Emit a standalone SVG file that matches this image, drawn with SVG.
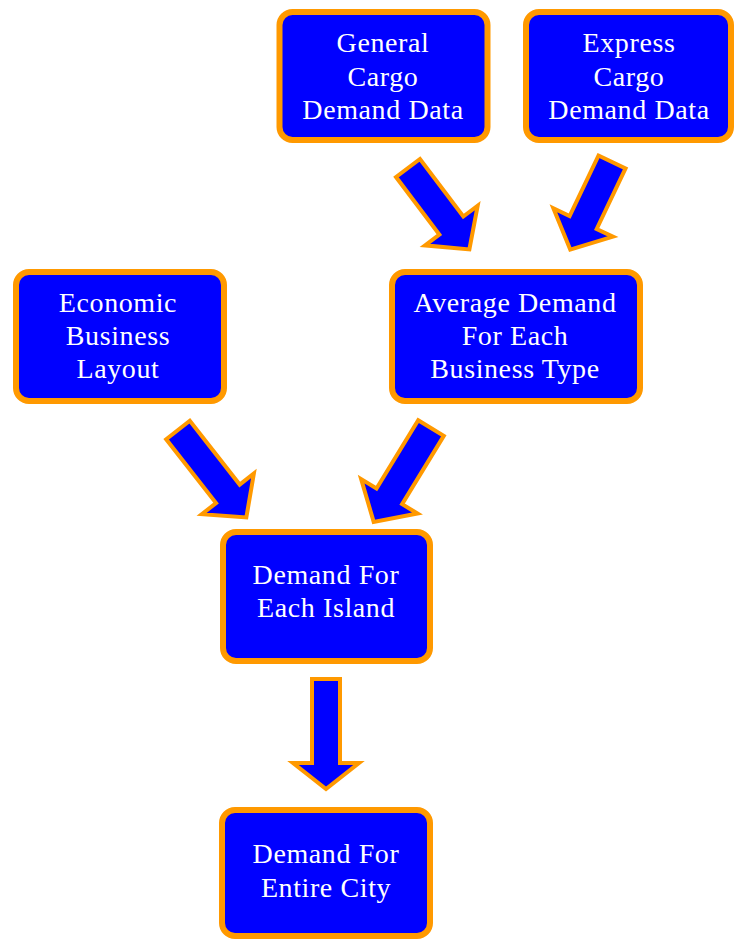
<svg xmlns="http://www.w3.org/2000/svg" width="737" height="939" viewBox="0 0 737 939">
<style>
.box{fill:#0000FF;stroke:#FF9900;stroke-width:6}
.lbl{fill:#FFFFFF;font-family:"Liberation Serif","Times New Roman",serif;font-size:28px;letter-spacing:0.6px;text-anchor:middle}
.arr{fill:#0000FF;stroke:#FF9900;stroke-width:4;stroke-linejoin:miter}
</style>
<rect width="737" height="939" fill="#FFFFFF"/>
<g id="connectors">
<path class="arr" transform="translate(408,168) rotate(-37)" d="M-15,0 L15,0 L15,72 L33,72 L0,102 L-33,72 L-15,72 Z"/>
<path class="arr" transform="translate(612,162) rotate(25.5)" d="M-15,0 L15,0 L15,67 L33,67 L0,97 L-33,67 L-15,67 Z"/>
<path class="arr" transform="translate(178,430) rotate(-38)" d="M-15,0 L15,0 L15,81 L33,81 L0,111 L-33,81 L-15,81 Z"/>
<path class="arr" transform="translate(431,428) rotate(31.4)" d="M-15,0 L15,0 L15,80 L33,80 L0,110 L-33,80 L-15,80 Z"/>
<path class="arr" transform="translate(326,679)" d="M-14,0 L14,0 L14,84 L33,84 L0,110 L-33,84 L-14,84 Z"/>
</g>
<g id="general">
<rect class="box" x="279.5" y="12" width="208" height="128" rx="13"/>
<text class="lbl" x="383" y="52">General</text>
<text class="lbl" x="383" y="86">Cargo</text>
<text class="lbl" x="383" y="119">Demand Data</text>
</g>
<g id="express">
<rect class="box" x="526" y="12" width="205" height="128" rx="13"/>
<text class="lbl" x="629" y="52">Express</text>
<text class="lbl" x="629" y="86">Cargo</text>
<text class="lbl" x="629" y="119">Demand Data</text>
</g>
<g id="economic">
<rect class="box" x="16" y="272" width="208" height="129" rx="13"/>
<text class="lbl" x="118" y="312">Economic</text>
<text class="lbl" x="118" y="345">Business</text>
<text class="lbl" x="118" y="378">Layout</text>
</g>
<g id="average">
<rect class="box" x="392" y="272" width="248" height="129" rx="13"/>
<text class="lbl" x="515" y="312">Average Demand</text>
<text class="lbl" x="515" y="345">For Each</text>
<text class="lbl" x="515" y="378">Business Type</text>
</g>
<g id="island">
<rect class="box" x="223" y="532" width="207" height="129" rx="13"/>
<text class="lbl" x="326" y="584">Demand For</text>
<text class="lbl" x="326" y="617">Each Island</text>
</g>
<g id="city">
<rect class="box" x="222" y="810" width="208" height="126" rx="13"/>
<text class="lbl" x="326" y="863">Demand For</text>
<text class="lbl" x="326" y="897">Entire City</text>
</g>
</svg>
